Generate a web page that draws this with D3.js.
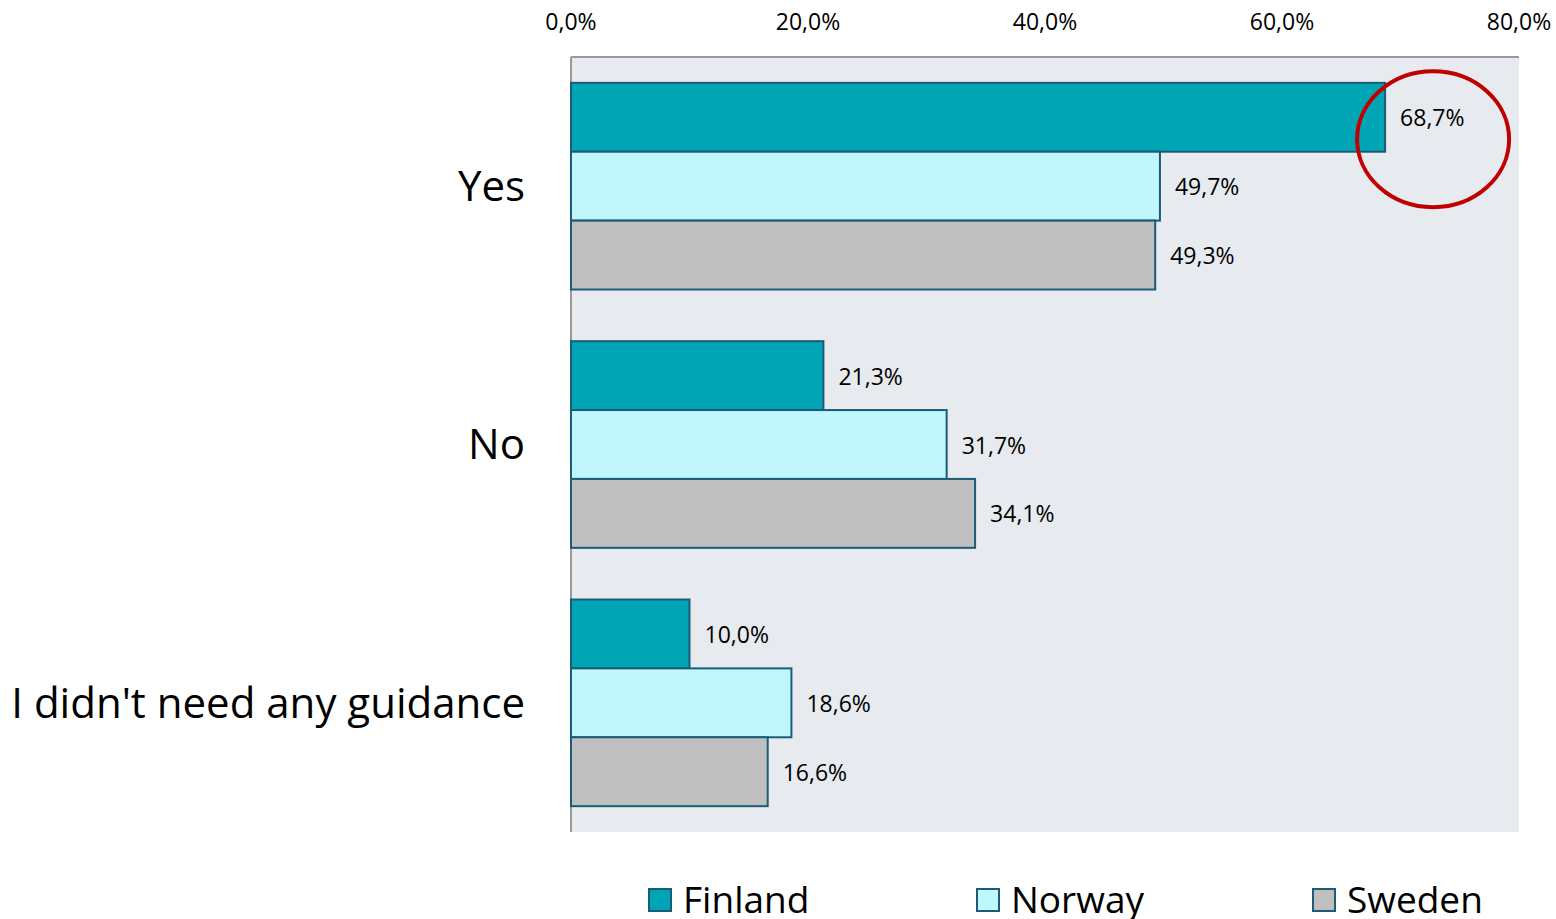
<!DOCTYPE html>
<html>
<head>
<meta charset="utf-8">
<script src="https://cdn.jsdelivr.net/npm/d3@7"></script>
<style>
  body { margin: 0; background: #fff; }
  svg { font-family: "Open Sans", Lato, sans-serif; }
</style>
</head>
<body>
<svg id="chart"></svg>
<script>
// Data
const categories = ["Yes", "No", "I didn't need any guidance"];
const countries = ["Finland", "Norway", "Sweden"];
const finland = [68.7, 21.3, 10.0];
const norway = [49.7, 31.7, 18.6];
const sweden = [49.3, 34.1, 16.6];
const xTicks = [0, 20, 40, 60, 80];

const seriesValues = [finland, norway, sweden];
const colors = ["#00a5b5", "#bff7fd", "#bfbfbf"];
const barStroke = "#1b5b78";

const width = 1556, height = 919;
const margin = { top: 57, right: 37, bottom: 87, left: 571 };

const svg = d3.select("#chart").attr("width", width).attr("height", height);

const x = d3.scaleLinear().domain([0, 80]).range([margin.left, width - margin.right]);
const y = d3.scaleBand().domain(categories)
    .range([margin.top, height - margin.bottom])
    .paddingInner(0.2).paddingOuter(0.1);
const ySub = d3.scaleBand().domain(countries).range([0, y.bandwidth()]);

// Plot background
svg.append("rect")
    .attr("x", margin.left).attr("y", margin.top)
    .attr("width", x(80) - x(0))
    .attr("height", height - margin.bottom - margin.top)
    .attr("fill", "#e7eaef");

// Top axis labels
const fmt = v => d3.format(".1f")(v).replace(".", ",") + "%";
svg.append("g").selectAll("text")
    .data(xTicks)
    .enter().append("text")
    .attr("x", d => x(d))
    .attr("y", 30)
    .attr("text-anchor", "middle")
    .attr("font-size", 23)
    .attr("fill", "#000")
    .text(fmt);

// Border lines (top and left)
svg.append("line")
    .attr("x1", margin.left).attr("x2", x(80))
    .attr("y1", margin.top).attr("y2", margin.top)
    .attr("stroke", "#999").attr("stroke-width", 2);
svg.append("line")
    .attr("x1", margin.left).attr("x2", margin.left)
    .attr("y1", margin.top).attr("y2", height - margin.bottom)
    .attr("stroke", "#999").attr("stroke-width", 2);

// Bars
const groups = svg.append("g").selectAll("g")
    .data(categories)
    .enter().append("g")
    .attr("transform", d => `translate(0,${y(d)})`);

groups.selectAll("rect")
    .data((d, i) => countries.map((c, j) => ({ country: c, value: seriesValues[j][i], j })))
    .enter().append("rect")
    .attr("x", x(0))
    .attr("y", d => ySub(d.country))
    .attr("width", d => x(d.value) - x(0))
    .attr("height", ySub.bandwidth())
    .attr("fill", d => colors[d.j])
    .attr("stroke", barStroke)
    .attr("stroke-width", 2);

groups.selectAll("text.val")
    .data((d, i) => countries.map((c, j) => ({ country: c, value: seriesValues[j][i] })))
    .enter().append("text")
    .attr("class", "val")
    .attr("x", d => x(d.value) + 15)
    .attr("y", d => ySub(d.country) + ySub.bandwidth() / 2 + 1)
    .attr("dy", "0.35em")
    .attr("font-size", 23)
    .attr("fill", "#000")
    .text(d => fmt(d.value));

// Category labels
svg.append("g").selectAll("text")
    .data(categories)
    .enter().append("text")
    .attr("x", 525)
    .attr("y", d => y(d) + y.bandwidth() / 2)
    .attr("dy", "0.35em")
    .attr("text-anchor", "end")
    .attr("font-size", 42)
    .attr("fill", "#000")
    .text(d => d);

// Red circle annotation around the Finland "Yes" label
svg.append("ellipse")
    .attr("cx", x(finland[0]) + 48)
    .attr("cy", y(categories[0]) + ySub("Finland") + ySub.bandwidth() / 2 + 22)
    .attr("rx", 76)
    .attr("ry", 68)
    .attr("fill", "none")
    .attr("stroke", "#c00000")
    .attr("stroke-width", 4);

// Legend
const legendX = [649, 977, 1313];
const legend = svg.append("g").selectAll("g")
    .data(countries)
    .enter().append("g")
    .attr("transform", (d, i) => `translate(${legendX[i]},889)`);

legend.append("rect")
    .attr("width", 22).attr("height", 22)
    .attr("fill", (d, i) => colors[i])
    .attr("stroke", barStroke)
    .attr("stroke-width", 2);

legend.append("text")
    .attr("x", 34)
    .attr("y", 11)
    .attr("dy", "0.35em")
    .attr("font-size", 37)
    .attr("fill", "#000")
    .text(d => d);
</script>
</body>
</html>
